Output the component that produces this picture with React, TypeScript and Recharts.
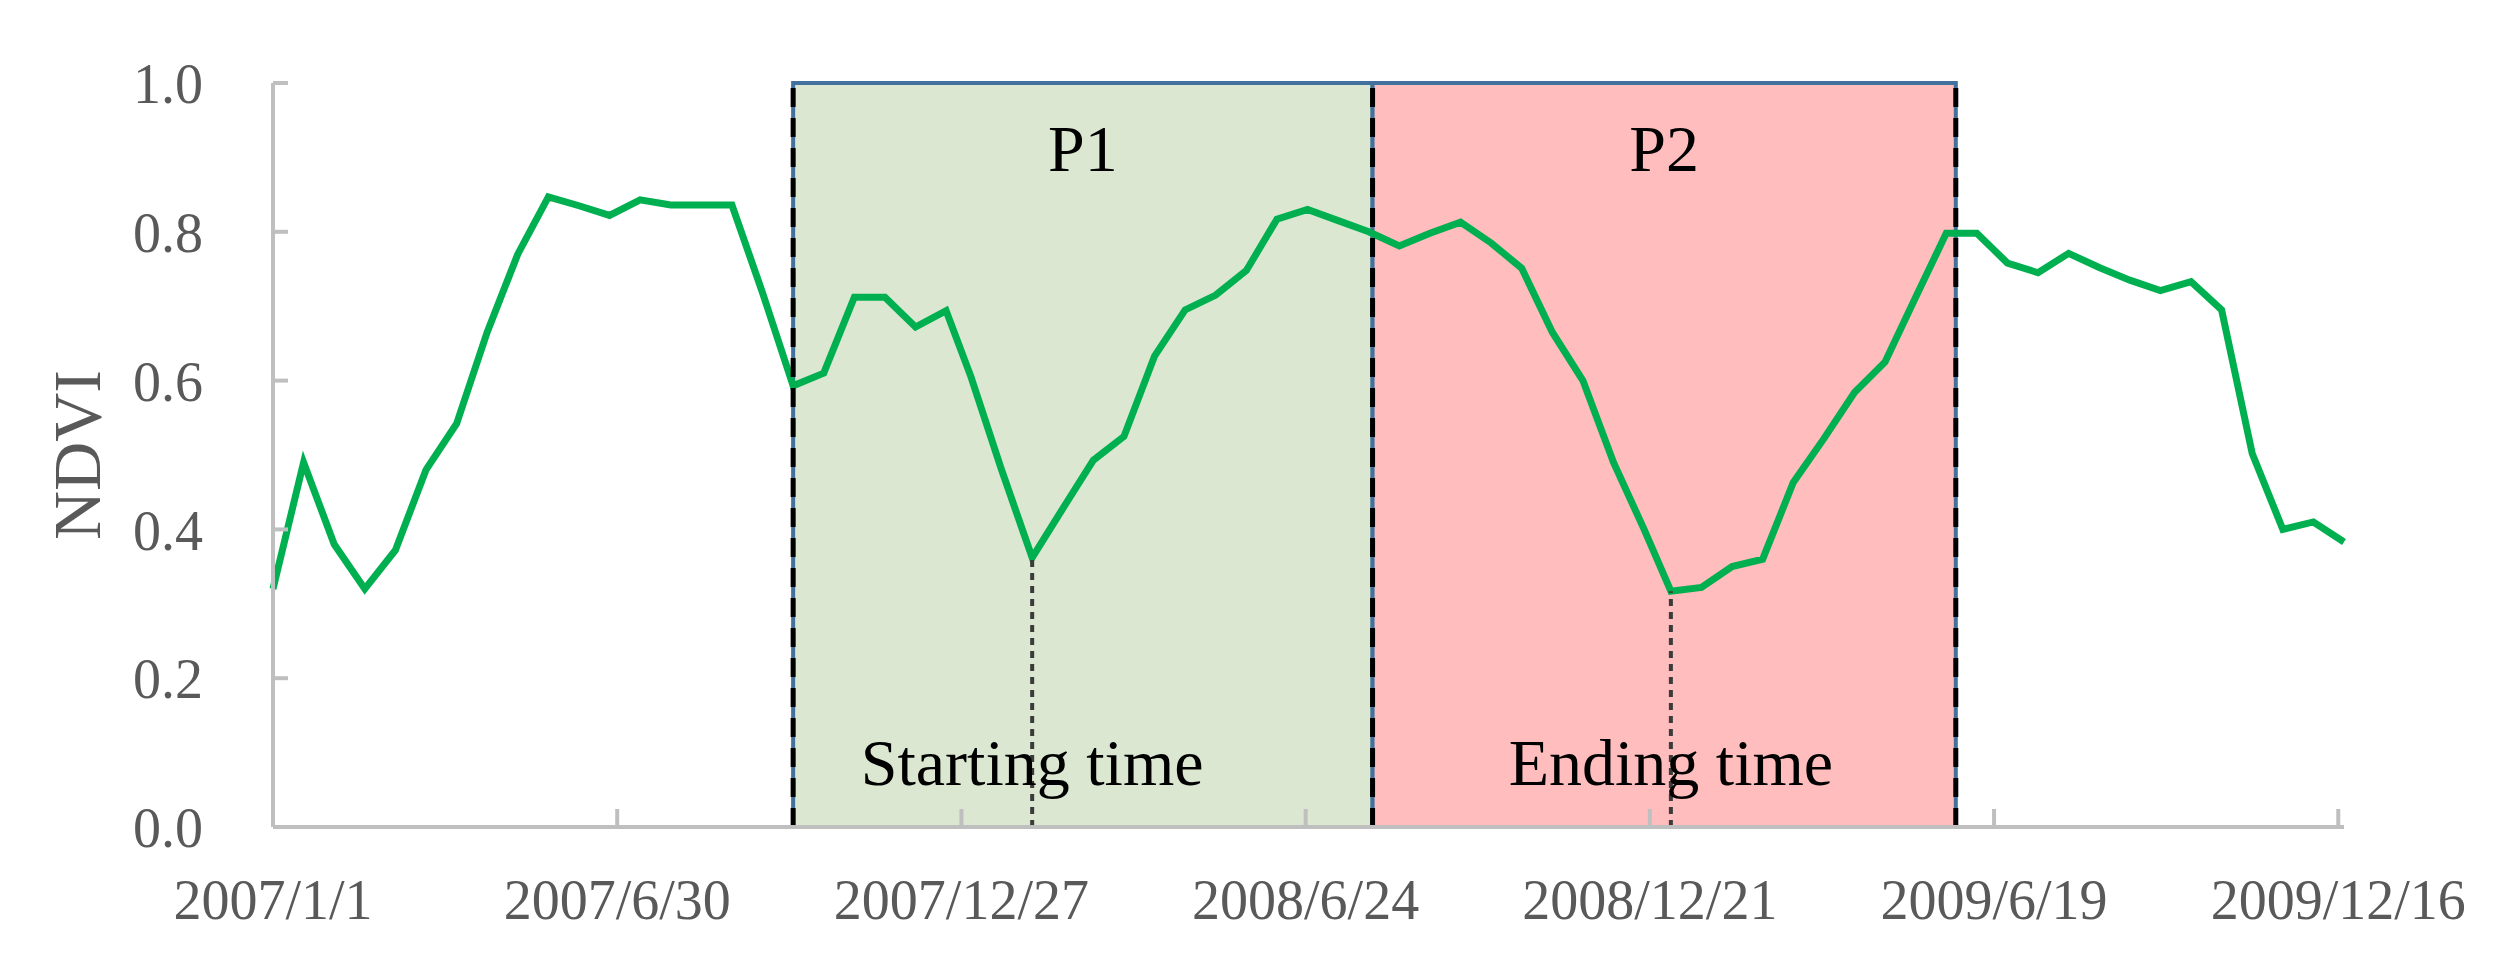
import React from 'react';
import { LineChart, Line, XAxis, YAxis, ReferenceArea, ReferenceLine } from 'recharts';

const dates2007 = ['2007/1/1','2007/1/17','2007/2/2','2007/2/18','2007/3/6','2007/3/22','2007/4/7','2007/4/23','2007/5/9','2007/5/25','2007/6/10','2007/6/26','2007/7/12','2007/7/28','2007/8/13','2007/8/29','2007/9/14','2007/9/30','2007/10/16','2007/11/1','2007/11/17','2007/12/3','2007/12/19'];
const dates2008 = ['2008/1/1','2008/1/17','2008/2/2','2008/2/18','2008/3/5','2008/3/21','2008/4/6','2008/4/22','2008/5/8','2008/5/24','2008/6/9','2008/6/25','2008/7/11','2008/7/27','2008/8/12','2008/8/28','2008/9/13','2008/9/29','2008/10/15','2008/10/31','2008/11/16','2008/12/2','2008/12/18'];
const dates2009 = ['2009/1/1','2009/1/17','2009/2/2','2009/2/18','2009/3/6','2009/3/22','2009/4/7','2009/4/23','2009/5/9','2009/5/25','2009/6/10','2009/6/26','2009/7/12','2009/7/28','2009/8/13','2009/8/29','2009/9/14','2009/9/30','2009/10/16','2009/11/1','2009/11/17','2009/12/3','2009/12/19'];

const ndvi2007 = [0.32,0.49,0.38,0.32,0.372,0.48,0.542,0.665,0.77,0.847,0.835,0.822,0.843,0.836,0.836,0.836,0.718,0.593,0.61,0.712,0.712,0.672,0.694];
const ndvi2008 = [0.605,0.48,0.362,0.428,0.493,0.525,0.633,0.695,0.715,0.748,0.817,0.83,0.815,0.8,0.781,0.798,0.813,0.785,0.751,0.665,0.6,0.49,0.4];
const ndvi2009 = [0.317,0.322,0.35,0.36,0.463,0.522,0.584,0.625,0.712,0.798,0.798,0.758,0.745,0.771,0.752,0.735,0.721,0.733,0.695,0.502,0.4,0.41,0.383];

const xTickLabels = ['2007/1/1','2007/6/30','2007/12/27','2008/6/24','2008/12/21','2009/6/19','2009/12/16'];
const yTicks = [0, 0.2, 0.4, 0.6, 0.8, 1.0];
const periodBounds = ['2007/9/30','2008/7/29','2009/5/30'];
const periodNames = ['P1','P2'];
const periodFills = ['#dbe7d0','#ffbdbd'];
const minimaDates = ['2008/2/2','2009/1/1'];
const minimaLabels = ['Starting time','Ending time'];

const ORIGIN = Date.UTC(2007, 0, 1);
const toDay = (s: string) => {
  const [y, m, d] = s.split('/').map(Number);
  return Math.round((Date.UTC(y, m - 1, d) - ORIGIN) / 86400000);
};

const allDates = [...dates2007, ...dates2008, ...dates2009];
const allNdvi = [...ndvi2007, ...ndvi2008, ...ndvi2009];
const data = allDates.map((d, i) => ({ day: toDay(d), ndvi: allNdvi[i] }));
const xTicks = xTickLabels.map(toDay);
const labelByDay: Record<number, string> = {};
xTickLabels.forEach((l) => { labelByDay[toDay(l)] = l; });
const bounds = periodBounds.map(toDay);
const minima = minimaDates.map((d) => {
  const day = toDay(d);
  const pt = data.find((p) => p.day === day);
  return { day, value: pt ? pt.ndvi : 0 };
});

const SERIF = '"Liberation Serif", "Times New Roman", serif';
const GRAY_TEXT = '#595959';
const AXIS_GRAY = '#bfbfbf';
const BOX_BLUE = '#41719c';

const XTick = (props: any) => {
  const { x, y, payload } = props;
  return (
    <g>
      <line x1={x} x2={x} y1={y} y2={y - 18} stroke={AXIS_GRAY} strokeWidth={4} />
      <text x={x} y={y + 92} textAnchor="middle" fontFamily={SERIF} fontSize={56} fill={GRAY_TEXT}>
        {labelByDay[payload.value] ?? ''}
      </text>
    </g>
  );
};

const YTick = (props: any) => {
  const { x, y, payload } = props;
  return (
    <g>
      <line x1={x} x2={x + 15} y1={y} y2={y} stroke={AXIS_GRAY} strokeWidth={4} />
      <text x={x - 70} y={y} dy="0.36em" textAnchor="end" fontFamily={SERIF} fontSize={56} fill={GRAY_TEXT}>
        {Number(payload.value).toFixed(1)}
      </text>
    </g>
  );
};

const YLabel = (props: any) => {
  const vb = props.viewBox || { x: 0, y: 0, width: 0, height: 0 };
  const cx = vb.x + 100;
  const cy = vb.y + vb.height / 2;
  return (
    <text x={cx} y={cy} transform={`rotate(-90 ${cx} ${cy})`} textAnchor="middle" fontFamily={SERIF} fontSize={68} fill={GRAY_TEXT}>
      NDVI
    </text>
  );
};

export default function App() {
  return (
    <div style={{ position: 'absolute', left: 0, top: 0, width: 2506, height: 970, background: '#fff' }}>
      <LineChart width={2506} height={970} data={data} margin={{ top: 83, right: 162, bottom: 43, left: 0 }}>
        <XAxis
          type="number"
          dataKey="day"
          domain={['dataMin', 'dataMax']}
          ticks={xTicks}
          interval={0}
          height={100}
          tickSize={0}
          tickMargin={0}
          tickLine={false}
          axisLine={{ stroke: AXIS_GRAY, strokeWidth: 4 }}
          tick={<XTick />}
        />
        <YAxis
          type="number"
          domain={[0, 1]}
          ticks={yTicks}
          interval={0}
          width={273}
          tickSize={0}
          tickMargin={0}
          tickLine={false}
          axisLine={{ stroke: AXIS_GRAY, strokeWidth: 4 }}
          tick={<YTick />}
          label={<YLabel />}
        />
        {periodNames.map((name, i) => (
          <ReferenceArea
            key={name}
            x1={bounds[i]}
            x2={bounds[i + 1]}
            y1={0}
            y2={1}
            fill={periodFills[i]}
            fillOpacity={1}
            stroke={BOX_BLUE}
            strokeWidth={4}
            label={{ value: name, position: 'insideTop', offset: 41, fontSize: 66, fill: '#000', fontFamily: SERIF }}
          />
        ))}
        <ReferenceLine
          segment={[{ x: bounds[0], y: 0 }, { x: bounds[bounds.length - 1], y: 0 }]}
          stroke={BOX_BLUE}
          strokeWidth={4}
        />
        <Line type="linear" dataKey="ndvi" stroke="#00b050" strokeWidth={7} dot={false} activeDot={false} isAnimationActive={false} />
        {bounds.map((b) => (
          <ReferenceLine key={'b' + b} x={b} stroke="#000" strokeWidth={5} strokeDasharray="19 11" />
        ))}
        {minima.map((m, i) => (
          <ReferenceLine
            key={'m' + m.day}
            segment={[{ x: m.day, y: 0 }, { x: m.day, y: m.value }]}
            stroke="#3b3b3b"
            strokeWidth={4}
            strokeDasharray="7 6"
            label={{ value: minimaLabels[i], position: 'insideBottom', offset: 42, fontSize: 66, fill: '#000', fontFamily: SERIF }}
          />
        ))}
      </LineChart>
    </div>
  );
}
